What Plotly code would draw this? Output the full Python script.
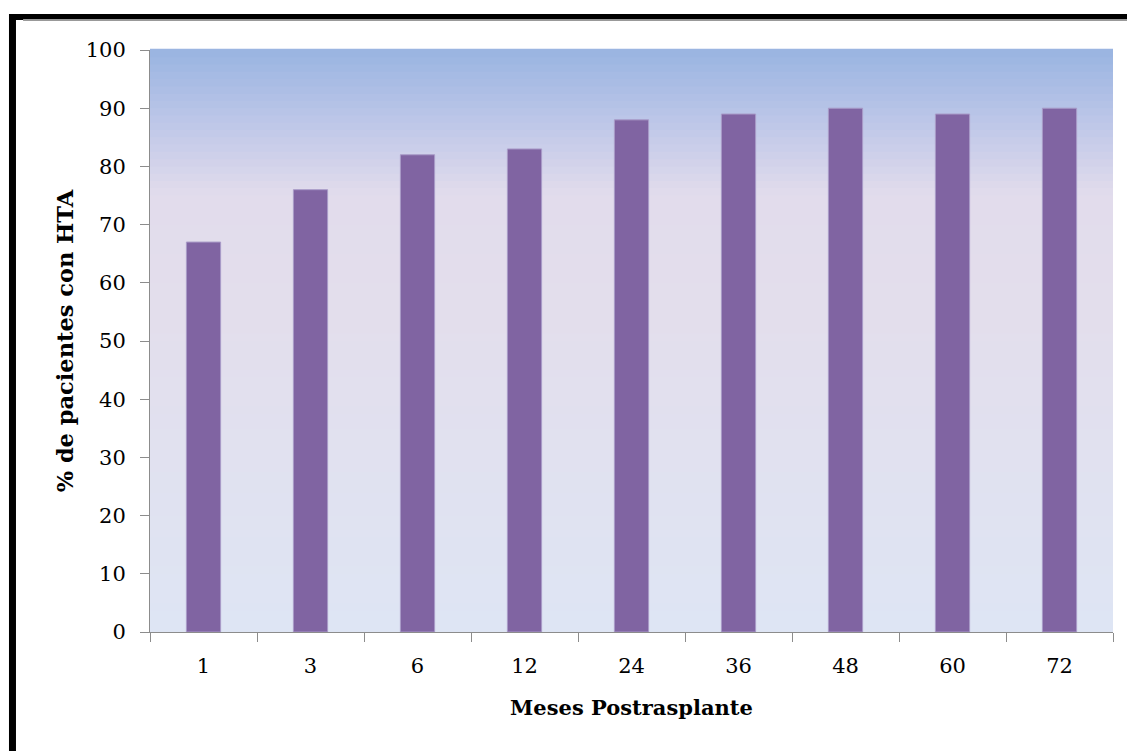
import plotly.graph_objects as go

meses = ["1", "3", "6", "12", "24", "36", "48", "60", "72"]
pct_hta = [67, 76, 82, 83, 88, 89, 90, 89, 90]
y_ticks = [0, 10, 20, 30, 40, 50, 60, 70, 80, 90, 100]

FONT = "DejaVu Serif"

fig = go.Figure()
fig.add_trace(go.Bar(
    x=meses, y=pct_hta, width=0.32,
    marker=dict(color="#8064A2", line=dict(color="#A99BC8", width=1)),
))

# gradient plot background built from thin strips (Excel-style fill)
stops = [(0.0, (222, 229, 244)), (0.55, (227, 222, 236)), (0.75, (226, 220, 236)),
         (0.88, (188, 198, 232)), (1.0, (153, 180, 225))]


def col_at(t):
    for (t0, c0), (t1, c1) in zip(stops[:-1], stops[1:]):
        if t0 <= t <= t1:
            f = (t - t0) / (t1 - t0)
            return "rgb(%d,%d,%d)" % tuple(round(a + (b - a) * f) for a, b in zip(c0, c1))
    return "rgb(%d,%d,%d)" % stops[-1][1]


n = 80
for i in range(n):
    fig.add_shape(type="rect", xref="x domain", yref="y domain",
                  x0=0, x1=1, y0=i / n, y1=(i + 1) / n + 0.002,
                  fillcolor=col_at((i + 0.5) / n), line_width=0, layer="below")

# black frame around the chart (runs past the right and bottom edges)
fig.add_shape(type="line", xref="paper", yref="paper", x0=-0.1445, x1=1.2, y0=1.0567, y1=1.0567,
              line=dict(color="black", width=6))
fig.add_shape(type="line", xref="paper", yref="paper", x0=-0.1318, x1=1.2, y0=1.0515, y1=1.0515,
              line=dict(color="#999999", width=2))
fig.add_shape(type="line", xref="paper", yref="paper", x0=-0.1428, x1=-0.1428, y0=1.062, y1=-0.4,
              line=dict(color="black", width=7))

# page body adds an 8px offset, so the figure is sized 8px smaller
fig.update_layout(
    width=1127, height=743,
    margin=dict(l=142, r=22, t=42, b=119),
    paper_bgcolor="white", plot_bgcolor="rgba(0,0,0,0)",
    showlegend=False,
    font=dict(family=FONT, size=21, color="black"),
    bargap=0.68,
)
fig.update_xaxes(
    title=dict(text="<b>Meses Postrasplante</b>", font=dict(family=FONT, size=21), standoff=23),
    showline=True, linecolor="#8c8c8c", linewidth=1,
    ticks="outside", tickson="boundaries", ticklen=9, tickcolor="#8c8c8c",
    ticklabelstandoff=15,
    showgrid=False,
)
fig.update_yaxes(
    title=dict(text="<b>% de pacientes con HTA</b>", font=dict(family=FONT, size=22.5), standoff=5),
    range=[0, 100], tickvals=y_ticks,
    showline=True, linecolor="#8c8c8c", linewidth=1,
    ticks="outside", ticklen=9, tickcolor="#8c8c8c",
    ticklabelstandoff=10,
    showgrid=False, zeroline=False,
)

fig.write_html("out.html")
